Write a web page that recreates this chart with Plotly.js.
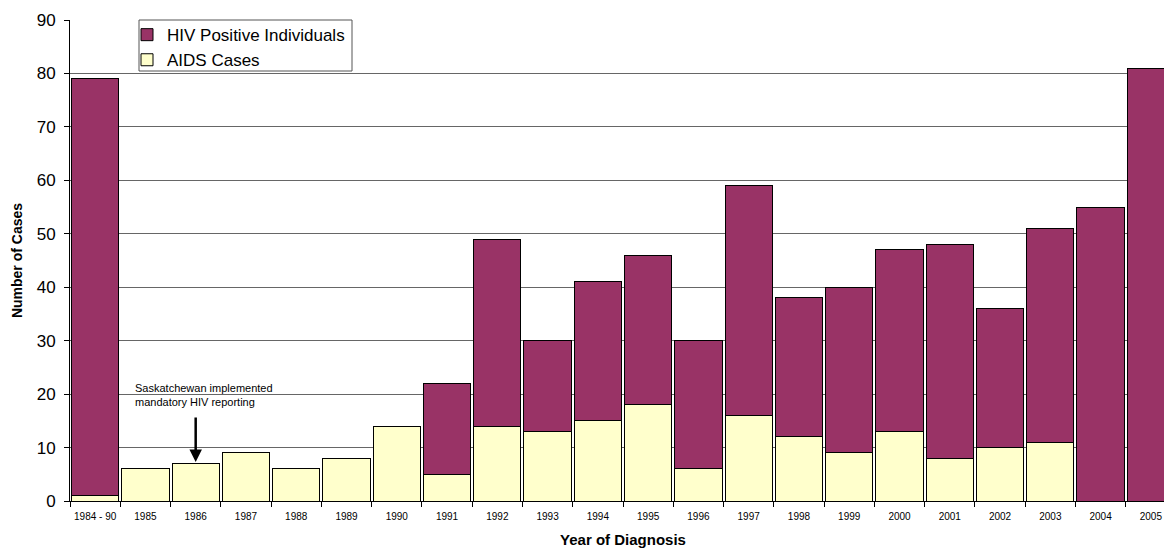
<!DOCTYPE html>
<html>
<head>
<meta charset="utf-8">
<script src="https://cdn.plot.ly/plotly-3.0.1.min.js"></script>
<style>
html,body{margin:0;padding:0;overflow:hidden;background:#fff;}
#chart{width:1186px;height:550px;}
</style>
</head>
<body>
<div id="chart"></div>
<script>
var categories = ["1984 - 90","1985","1986","1987","1988","1989","1990","1991","1992","1993","1994","1995","1996","1997","1998","1999","2000","2001","2002","2003","2004","2005"];
var aidsCases = [1,6,7,9,6,8,14,5,14,13,15,18,6,16,12,9,13,8,10,11,null,null];
var hivPositive = [78,null,null,null,null,null,null,17,35,17,26,28,24,43,26,31,34,40,26,40,55,81];
var yTickVals = [0,10,20,30,40,50,60,70,80,90];

var FONT = "Arial, 'Liberation Sans', sans-serif";

var traces = [
  {
    type: "bar", name: "AIDS Cases", x: categories, y: aidsCases,
    marker: {color: "#FFFFCC", line: {color: "#000", width: 1}},
    hoverinfo: "x+y+name"
  },
  {
    type: "bar", name: "HIV Positive Individuals", x: categories, y: hivPositive,
    marker: {color: "#993366", line: {color: "#000", width: 1}},
    hoverinfo: "x+y+name"
  }
];

var layout = {
  width: 1186, height: 550,
  margin: {l: 70, r: 10, t: 20, b: 49},
  barmode: "stack",
  bargap: 0.06,
  paper_bgcolor: "#fff", plot_bgcolor: "#fff",
  font: {family: FONT, color: "#000"},
  showlegend: true,
  legend: {
    x: (127-70)/1106, y: 1.006, xanchor: "left", yanchor: "top",
    traceorder: "reversed",
    bgcolor: "rgba(0,0,0,0)", borderwidth: 0,
    font: {family: FONT, size: 17, color: "#000"},
    itemwidth: 30
  },
  xaxis: {
    type: "category",
    range: [-0.5, 21.5],
    tickangle: 0,
    tickfont: {family: FONT, size: 10, color: "#000"},
    ticklabelstandoff: 6,
    showline: true, linecolor: "#000", linewidth: 1,
    ticks: "outside", tickson: "boundaries", ticklen: 5, tickcolor: "#000", tickwidth: 1,
    showgrid: false, zeroline: false,
    title: {text: "Year of Diagnosis", font: {family: FONT, size: 15, color: "#000", weight: "bold"}, standoff: 13},
    automargin: false
  },
  yaxis: {
    range: [0, 90], tickvals: yTickVals, ticktext: yTickVals.map(String),
    tickfont: {family: FONT, size: 17, color: "#000"},
    ticklabelstandoff: 5,
    showline: true, linecolor: "#000", linewidth: 1,
    ticks: "outside", ticklen: 5, tickcolor: "#000",
    showgrid: true, gridcolor: "#666", gridwidth: 1,
    zeroline: false,
    title: {text: "Number of Cases", font: {family: FONT, size: 14, color: "#000", weight: "bold"}, standoff: 10},
    automargin: false
  },
  shapes: [
    {type: "rect", xref: "paper", yref: "paper", layer: "above",
     x0: (139-70)/1106, x1: (352-70)/1106, y0: 1 - 51/481, y1: 1,
     fillcolor: "#fff", line: {color: "#555", width: 1}}
  ],
  annotations: [
    {x: 0.753, y: 19.8, xref: "x", yref: "y", xanchor: "left", yanchor: "middle", align: "left",
     text: "Saskatchewan implemented<br>mandatory HIV reporting", showarrow: false,
     font: {family: FONT, size: 11, color: "#000"}},
    {x: 2, y: 7.3, xref: "x", yref: "y", text: "", showarrow: true,
     ax: 0, ay: -46, arrowhead: 2, arrowsize: 1, arrowwidth: 2.5, arrowcolor: "#000"}
  ]
};

Plotly.newPlot("chart", traces, layout, {displayModeBar: false, staticPlot: true});
</script>
</body>
</html>
